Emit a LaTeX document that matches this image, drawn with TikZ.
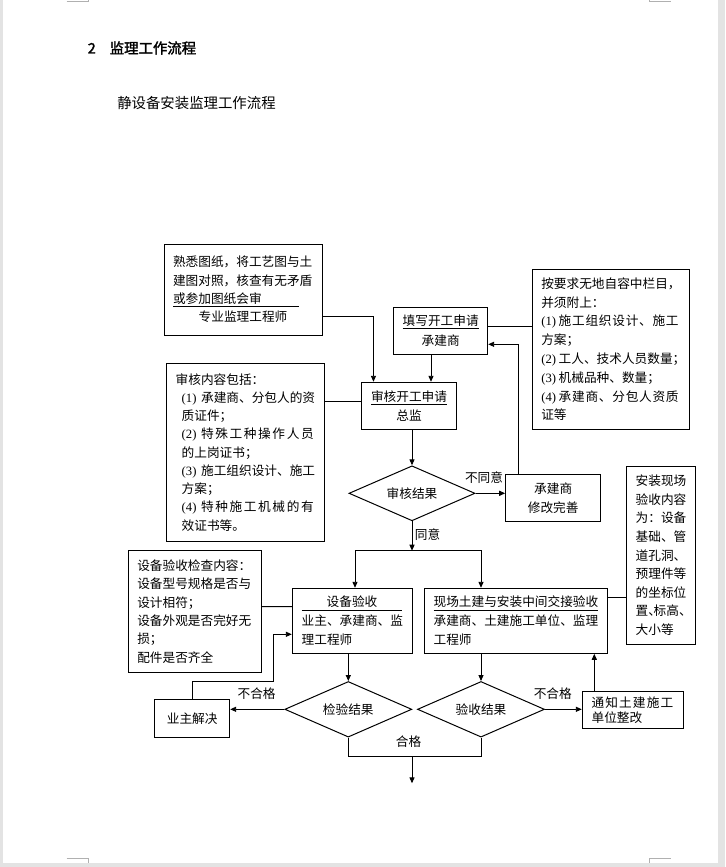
\documentclass[tikz,border=0pt]{standalone}
\usepackage{fontspec}
\setmainfont{Noto Sans CJK SC}
\newfontfamily\latn{Liberation Serif}
\newfontfamily\cjkbold[FakeBold=2]{Noto Sans CJK SC}
\usetikzlibrary{shapes.geometric,arrows.meta,calc}
\definecolor{pagegray}{HTML}{E3E3E3}
\definecolor{markgray}{HTML}{B0B0B0}
\tikzset{
  txt/.style={font=\fontsize{9.5}{13.7}\selectfont},
  box/.style={txt, draw, line width=0.75pt, rectangle, inner ysep=0pt, inner xsep=6.75pt, align=left},
  cbox/.style={txt, draw, line width=0.75pt, rectangle, inner sep=0pt, align=center},
  decide/.style={txt, draw, shape=diamond, aspect=2.3, inner sep=0pt, line width=0.75pt},
  conn/.style={line width=0.7pt},
  arr/.style={conn, -{Triangle[length=4.5pt,width=3.8pt]}},
  lbl/.style={txt, inner sep=0pt},
  cropline/.style={markgray, line width=0.75pt}
}
\begin{document}
\begin{tikzpicture}[x=0.75pt,y=-0.75pt]
% page
\fill[pagegray] (0,0) rectangle (725,867);
\fill[white] (3,0) rectangle (717.5,862.5);
\useasboundingbox (0,0) rectangle (725,867);
\draw[cropline] (66.7,1.5) -- (88.3,1.5) -- (88.3,0);
\draw[cropline] (670.7,1.5) -- (649.3,1.5) -- (649.3,0);
\draw[cropline] (66.7,858.3) -- (88.3,858.3) -- (88.3,862.5);
\draw[cropline] (670.7,858.3) -- (649.3,858.3) -- (649.3,862.5);

% titles
\node[anchor=west, inner sep=0pt, font=\cjkbold\fontsize{10.8}{13}\selectfont] (title) at (87.5,48) {\makebox[16.5pt][l]{2}监理工作流程};
\node[anchor=west, inner sep=0pt, font=\fontsize{10.8}{13}\selectfont] (subtitle) at (117,103) {静设备安装监理工作流程};

% boxes
\node[box, text width=105pt, minimum height=68.25pt] (b1) at (243,289.5)
  {熟悉图纸，将工艺图与土\\建图对照，核查有无矛盾\\\underline{\makebox[94.5pt][l]{或参加图纸会审}}\\\makebox[105pt]{专业监理工程师}};

\node[cbox, minimum width=70.5pt, minimum height=35pt, font=\fontsize{9.5}{15}\selectfont] (b_fill) at (440.7,330.7)
  {\underline{填写开工申请}\\承建商};

\node[cbox, minimum width=71pt, minimum height=35.25pt, font=\fontsize{9.5}{14.5}\selectfont] (b_rev) at (409,405.8)
  {\underline{审核开工申请}\\总监};

\node[box, text width=104.7pt, minimum height=133.5pt] (b_audit) at (245.5,452.3)
  {审核内容包括：\\
   \hspace*{4.5pt}\mbox{{\latn (1)}\hspace{3.5pt}承建商、分包人的资}\\
   \hspace*{4.5pt}质证件；\\
   \hspace*{4.5pt}\makebox[99pt][s]{{\latn (2)}\hspace{3.5pt}特\hfill 殊\hfill 工\hfill 种\hfill 操\hfill 作\hfill 人\hfill 员}\\
   \hspace*{4.5pt}的上岗证书；\\
   \hspace*{4.5pt}\makebox[99pt][s]{{\latn (3)}\hspace{3.5pt}施\hfill 工\hfill 组\hfill 织\hfill 设\hfill 计\hfill 、\hfill 施\hfill 工}\\
   \hspace*{4.5pt}方案；\\
   \hspace*{4.5pt}\makebox[99pt][s]{{\latn (4)}\hspace{3.5pt}特\hfill 种\hfill 施\hfill 工\hfill 机\hfill 械\hfill 的\hfill 有}\\
   \hspace*{4.5pt}效证书等。};

\node[box, text width=104.25pt, minimum height=120pt, font=\fontsize{9.5}{14.1}\selectfont] (b_req) at (610.8,349.3)
  {按要求无地自容中栏目，\\
   并须附上：\\
   \makebox[103pt][s]{{\latn (1)}\hspace{2pt}施\hfill 工\hfill 组\hfill 织\hfill 设\hfill 计\hfill 、\hfill 施\hfill 工}\\
   方案；\\
   \mbox{{\latn (2)}\hspace{2pt}工人、技术人员数量；}\\
   \mbox{{\latn (3)}\hspace{2pt}机械品种、数量；}\\
   \makebox[103pt][s]{{\latn (4)}\hspace{2pt}承\hfill 建\hfill 商\hfill 、\hfill 分\hfill 包\hfill 人\hfill 资\hfill 质}\\
   证等};

\node[cbox, minimum width=71.25pt, minimum height=35pt] (b_fix) at (553.2,498.3) {承建商\\修改完善};

\node[box, text width=37.95pt, minimum height=133pt, font=\fontsize{9.5}{13.95}\selectfont] (b_site) at (661,555.35)
  {安装现场\\验收内容\\为：设备\\基础、管\\道孔洞、\\预理件等\\的坐标位\\置\makebox[4pt][l]{、}标高\makebox[4pt][l]{、}\\大小等};

\node[box, text width=86.55pt, minimum height=91.2pt] (b_chk) at (195,611.5)
  {设备验收检查内容：\\设备型号规格是否与\\设计相符；\\设备外观是否完好无\\损；\\配件是否齐全};

\node[box, inner xsep=7.05pt, text width=76.2pt, minimum height=48.75pt, font=\fontsize{9.5}{14.1}\selectfont] (b_eq) at (352.5,620.8)
  {\underline{\makebox[75.5pt]{设备验收}}\\业主、承建商、监\\理工程师};

\node[box, inner xsep=7pt, text width=123.25pt, minimum height=48.75pt, font=\fontsize{9.5}{14.1}\selectfont] (b_civil) at (515.8,620.8)
  {\underline{现场土建与安装中间交接验收}\\承建商、土建施工单位、监理\\工程师};

\node[cbox, minimum width=56.25pt, minimum height=28.3pt] (b_owner) at (192.2,718.85) {业主解决};

\node[box, inner xsep=7pt, text width=61.75pt, minimum height=27.45pt, font=\fontsize{9.5}{11.7}\selectfont] (b_notice) at (632.8,710)
  {\makebox[61.2pt][s]{通\hfill 知\hfill 土\hfill 建\hfill 施\hfill 工}\\单位整改};

% decisions
\node[decide, minimum width=94.5pt, minimum height=41.25pt] (d1) at (412,493.3) {审核结果};
\node[decide, minimum width=95.25pt, minimum height=41.7pt] (d2) at (348.3,709.3) {检验结果};
\node[decide, minimum width=95.25pt, minimum height=41.7pt] (d3) at (481,709.3) {验收结果};

% labels
\node[lbl] (l_no1) at (484,478) {不同意};
\node[lbl] (l_yes) at (427.5,535) {同意};
\node[lbl] (l_bad1) at (256.6,694) {不合格};
\node[lbl] (l_bad2) at (552.8,693.3) {不合格};
\node[lbl] (l_ok) at (408.5,741.7) {合格};

% junction coordinates
\coordinate (split) at (412,550.7);
\coordinate (merge) at (412,756.7);
\coordinate (out) at (412,783.3);

% connectors
\draw[arr] ($(b1.east)+(0,27.2)$) -| ($(b_rev.north west)+(12.3,0)$);
\draw[arr] ($(b_fill.south)+(-9.7,0)$) -- ($(b_rev.north)+(22,0)$);
\draw[conn] ($(b_fill.east)+(0,-4.7)$) -- ($(b_req.west)+(0,-23.3)$);
\draw[conn] ($(b_audit.east)+(0,-50.6)$) -- ($(b_rev.west)+(0,-4.1)$);
\draw[arr] (b_rev.south -| d1.north) -- (d1.north);
\draw[arr] (d1.east) -- (d1.east -| b_fix.west);
\draw[arr] ($(b_fix.north west)+(13.6,0)$) |- ($(b_fill.east)+(0,13.6)$);
\draw[arr] (d1.south) -- (split);
\draw[arr] (split) -| ($(b_eq.north)+(2.5,0)$);
\draw[arr] (split) -| ($(b_civil.north)+(-34.8,0)$);
\draw[conn] ($(b_chk.east)+(0,-4.8)$) -- ($(b_eq.west)+(0,-14.1)$);
\draw[conn] ($(b_civil.east)+(0,-23.5)$) -- ($(b_site.west)+(0,41.95)$);
\draw[arr] (b_eq.south -| d2.north) -- (d2.north);
\draw[arr] (b_civil.south -| d3.north) -- (d3.north);
\draw[arr] (d2.west) -- (d2.west -| b_owner.east);
\draw[arr] (b_owner.north) |- ($(b_eq.west)+(-18.3,61)$) |- ($(b_eq.west)+(0,13.5)$);
\draw[arr] (d3.east) -- (d3.east -| b_notice.west);
\draw[arr] ($(b_notice.north)+(-38.5,0)$) -- ($(b_civil.south)+(78.5,0)$);
\draw[conn] (d2.south) |- (merge) -| (d3.south);
\draw[arr] (merge) -- (out);
\end{tikzpicture}
\end{document}
